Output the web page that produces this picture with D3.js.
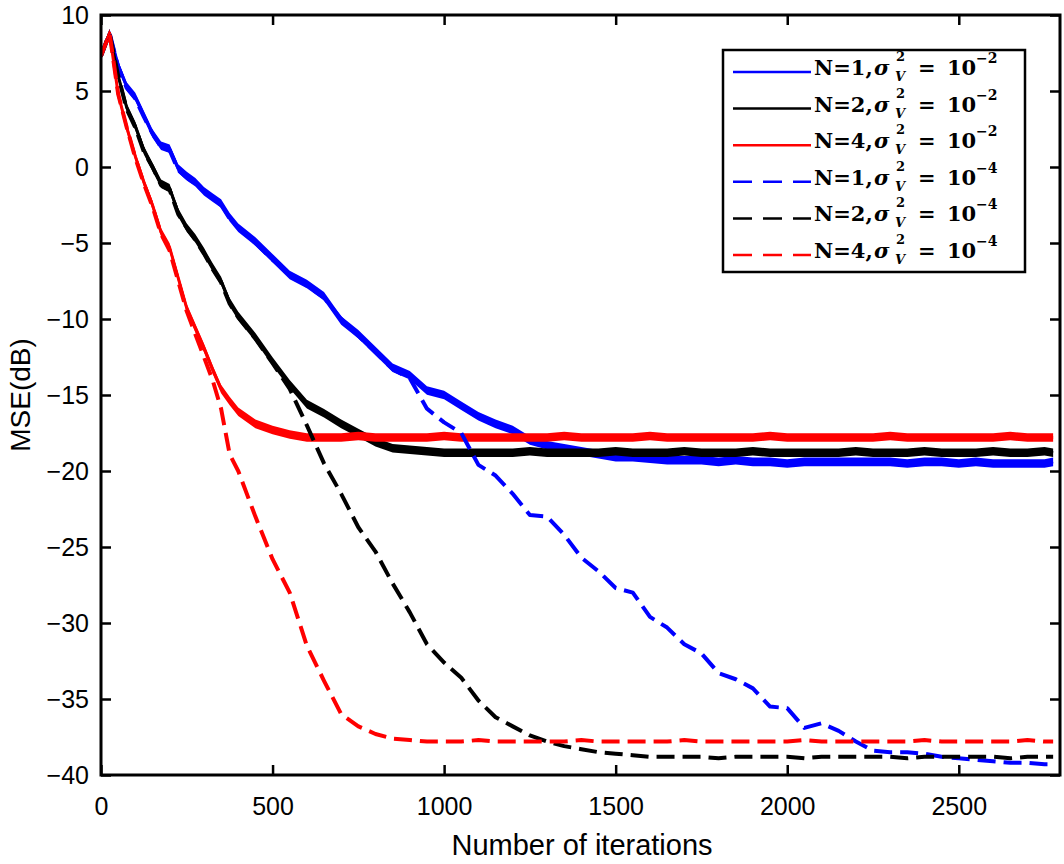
<!DOCTYPE html>
<html>
<head>
<meta charset="utf-8">
<script src="https://cdn.jsdelivr.net/npm/d3@7"></script>
<style>
  html, body { margin: 0; padding: 0; background: #fff; }
  svg { display: block; }
</style>
</head>
<body>
<svg id="chart" width="1064" height="864"></svg>
<script>
// ---------------- data ----------------
const iterations = [0,25,50,75,100,125,150,175,200,225,250,275,300,325,350,375,400,
  450,500,550,600,650,700,750,800,850,900,950,1000,1050,1100,1150,1200,1250,1300,1350,
  1400,1450,1500,1550,1600,1650,1700,1750,1800,1850,1900,1950,2000,2050,2100,2150,2200,
  2250,2300,2350,2400,2450,2500,2550,2600,2650,2700,2750,2775];

// N=1, sigma^2 = 1e-2 (blue solid)
const mseN1High = [7.3,8.8,6.7,5.3,4.6,3.4,2.2,1.4,1.2,-0.1,-0.6,-1.0,-1.6,-2.0,-2.4,-3.3,-4.0,
  -4.9,-6.0,-7.1,-7.7,-8.5,-10.1,-11.0,-12.1,-13.2,-13.7,-14.7,-15.0,-15.7,-16.4,-16.9,-17.3,-18.0,-18.3,-18.5,
  -18.7,-18.9,-19.1,-19.1,-19.2,-19.3,-19.3,-19.3,-19.4,-19.3,-19.4,-19.4,-19.5,-19.4,-19.4,-19.4,-19.4,
  -19.4,-19.4,-19.5,-19.4,-19.4,-19.5,-19.4,-19.5,-19.5,-19.5,-19.5,-19.4];
// N=2, sigma^2 = 1e-2 (black solid)
const mseN2High = [7.3,8.8,6.0,3.9,2.7,1.1,0.0,-1.1,-1.4,-3.0,-4.0,-4.7,-5.6,-6.6,-7.5,-8.9,-9.8,
  -11.2,-12.8,-14.3,-15.6,-16.2,-16.9,-17.5,-18.1,-18.5,-18.6,-18.7,-18.8,-18.8,-18.8,-18.8,-18.8,-18.7,-18.8,-18.8,
  -18.8,-18.8,-18.7,-18.8,-18.8,-18.8,-18.7,-18.8,-18.8,-18.8,-18.7,-18.8,-18.8,-18.8,-18.8,-18.8,-18.7,
  -18.8,-18.8,-18.8,-18.7,-18.8,-18.8,-18.8,-18.7,-18.8,-18.8,-18.7,-18.8];
// N=4, sigma^2 = 1e-2 (red solid)
const mseN4High = [7.3,8.8,4.8,2.6,0.7,-1.0,-2.5,-4.3,-5.3,-7.3,-9.3,-10.6,-11.9,-13.3,-14.6,-15.4,-16.1,
  -16.9,-17.3,-17.6,-17.8,-17.8,-17.8,-17.7,-17.8,-17.8,-17.8,-17.8,-17.7,-17.8,-17.8,-17.8,-17.8,-17.8,-17.8,-17.7,
  -17.8,-17.8,-17.8,-17.8,-17.7,-17.8,-17.8,-17.8,-17.8,-17.8,-17.8,-17.7,-17.8,-17.8,-17.8,-17.8,-17.8,
  -17.8,-17.7,-17.8,-17.8,-17.8,-17.8,-17.8,-17.8,-17.7,-17.8,-17.8,-17.8];
// N=1, sigma^2 = 1e-4 (blue dashed)
const mseN1Low = [7.3,8.8,6.6,5.2,4.5,3.3,2.2,1.3,1.1,-0.2,-0.7,-1.1,-1.6,-2.1,-2.5,-3.4,-4.0,
  -5.0,-6.1,-7.0,-7.8,-8.6,-10.0,-11.1,-12.2,-13.3,-13.9,-15.9,-16.8,-17.5,-19.6,-20.3,-21.5,-22.9,-23.0,-24.2,
  -25.7,-26.6,-27.7,-28.0,-29.6,-30.3,-31.4,-32.0,-33.3,-33.7,-34.3,-35.5,-35.6,-36.9,-36.6,-37.1,-37.8,
  -38.4,-38.5,-38.5,-38.6,-38.8,-38.9,-39.0,-39.1,-39.2,-39.2,-39.3,-39.3];
// N=2, sigma^2 = 1e-4 (black dashed)
const mseN2Low = [7.3,8.8,6.0,3.8,2.6,1.0,0.0,-1.2,-1.5,-3.1,-4.0,-4.8,-5.7,-6.7,-7.6,-9.0,-9.9,
  -11.3,-12.9,-14.6,-17.0,-19.5,-21.5,-23.7,-25.3,-27.4,-29.3,-31.4,-32.6,-33.6,-35.1,-36.2,-36.8,-37.4,-37.8,-38.1,
  -38.3,-38.5,-38.6,-38.7,-38.8,-38.8,-38.8,-38.8,-38.9,-38.8,-38.8,-38.8,-38.8,-38.9,-38.8,-38.8,-38.8,
  -38.8,-38.8,-38.9,-38.8,-38.8,-38.8,-38.8,-38.8,-38.9,-38.8,-38.8,-38.8];
// N=4, sigma^2 = 1e-4 (red dashed)
const mseN4Low = [7.3,8.8,4.8,2.6,0.6,-1.1,-2.6,-4.4,-5.5,-7.5,-9.5,-11.0,-12.5,-14.0,-15.9,-18.9,-20.0,
  -23.0,-25.8,-28.0,-31.5,-33.8,-36.0,-36.8,-37.3,-37.6,-37.7,-37.8,-37.8,-37.8,-37.7,-37.8,-37.8,-37.8,-37.8,-37.8,
  -37.7,-37.8,-37.8,-37.8,-37.8,-37.8,-37.7,-37.8,-37.8,-37.8,-37.8,-37.8,-37.8,-37.7,-37.8,-37.8,-37.8,
  -37.8,-37.8,-37.8,-37.7,-37.8,-37.8,-37.8,-37.8,-37.8,-37.7,-37.8,-37.8];

const seriesLabelsN = ["N=1", "N=2", "N=4", "N=1", "N=2", "N=4"];
const seriesExponent = ["\u22122", "\u22122", "\u22122", "\u22124", "\u22124", "\u22124"];
const seriesColors = ["#0000ff", "#000000", "#ff0000", "#0000ff", "#000000", "#ff0000"];
const seriesDashed = [false, false, false, true, true, true];
const seriesValues = [mseN1High, mseN2High, mseN4High, mseN1Low, mseN2Low, mseN4Low];
// half-width (dB) of the noise band seen around the solid curves
const noiseHalfWidth = [0.28, 0.28, 0.28, 0.25, 0.25, 0.25];

const xTicks = [0, 500, 1000, 1500, 2000, 2500];
const yTicks = [-40, -35, -30, -25, -20, -15, -10, -5, 0, 5, 10];
const xLabel = "Number of iterations";
const yLabel = "MSE(dB)";

// ---------------- drawing ----------------
const svg = d3.select("#chart");
const L = 101, R = 1060, T = 15, B = 775;
const x = d3.scaleLinear().domain([0, 2795]).range([L, R]);
const y = d3.scaleLinear().domain([-40, 10]).range([B, T]);

svg.append("rect").attr("width", 1064).attr("height", 864).attr("fill", "#fff");

svg.append("defs").append("clipPath").attr("id", "plotclip")
  .append("rect").attr("x", L).attr("y", T).attr("width", R - L).attr("height", B - T);

const plot = svg.append("g").attr("clip-path", "url(#plotclip)");

seriesValues.forEach((vals, s) => {
  const pts = iterations.map((it, i) => ({ it, v: vals[i] }));
  if (!seriesDashed[s]) {
    const area = d3.area()
      .x(d => x(d.it))
      .y0(d => y(d.v - noiseHalfWidth[s]))
      .y1(d => y(d.v + noiseHalfWidth[s]));
    plot.append("path").datum(pts).attr("d", area)
      .attr("fill", seriesColors[s]);
    plot.append("path").datum(pts)
      .attr("d", d3.line().x(d => x(d.it)).y(d => y(d.v)))
      .attr("fill", "none").attr("stroke", seriesColors[s])
      .attr("stroke-width", 3).attr("stroke-linejoin", "round");
  } else {
    plot.append("path").datum(pts)
      .attr("d", d3.line().x(d => x(d.it)).y(d => y(d.v)))
      .attr("fill", "none").attr("stroke", seriesColors[s])
      .attr("stroke-width", 4).attr("stroke-dasharray", "18,8")
      .attr("stroke-linejoin", "round");
  }
});

const tickFont = "'Liberation Sans', Arial, Helvetica, sans-serif";

// axes (ticks inward, MATLAB style)
const gx = svg.append("g").attr("transform", `translate(0,${B})`)
  .call(d3.axisBottom(x).tickValues(xTicks).tickSize(-10).tickPadding(22).tickFormat(d3.format("d")));
const gy = svg.append("g").attr("transform", `translate(${L},0)`)
  .call(d3.axisLeft(y).tickValues(yTicks).tickSize(-10).tickPadding(12).tickFormat(d3.format("d")));
const gxt = svg.append("g").attr("transform", `translate(0,${T})`)
  .call(d3.axisTop(x).tickValues(xTicks).tickSize(-10).tickFormat(""));
const gyr = svg.append("g").attr("transform", `translate(${R},0)`)
  .call(d3.axisRight(y).tickValues(yTicks).tickSize(-10).tickFormat(""));

[gx, gy, gxt, gyr].forEach(g => {
  g.select(".domain").remove();
  g.selectAll(".tick line").attr("stroke", "#000").attr("stroke-width", 2.5);
  g.selectAll(".tick text").attr("fill", "#000")
    .style("font-family", tickFont).style("font-size", "25px");
});

svg.append("rect").attr("x", L).attr("y", T).attr("width", R - L).attr("height", B - T)
  .attr("fill", "none").attr("stroke", "#000").attr("stroke-width", 3);

svg.append("text").attr("x", 582).attr("y", 855)
  .attr("text-anchor", "middle").style("font-family", tickFont).style("font-size", "29px")
  .text(xLabel);
svg.append("text").attr("transform", `translate(30,${(T + B) / 2}) rotate(-90)`)
  .attr("text-anchor", "middle").style("font-family", tickFont).style("font-size", "28px")
  .text(yLabel);

// legend
const legX = 723, legY = 50, legW = 302, legH = 222;
const leg = svg.append("g");
leg.append("rect").attr("x", legX).attr("y", legY).attr("width", legW).attr("height", legH)
  .attr("fill", "#fff").attr("stroke", "#000").attr("stroke-width", 2.5);
const serif = "'DejaVu Serif', 'Liberation Serif', serif";
seriesLabelsN.forEach((lab, i) => {
  const cy = 72 + i * 36.6;
  leg.append("line").attr("x1", 733).attr("x2", 811).attr("y1", cy).attr("y2", cy)
    .attr("stroke", seriesColors[i]).attr("stroke-width", 2.5)
    .attr("stroke-dasharray", seriesDashed[i] ? "19,11" : null);
  const g = leg.append("g").attr("fill", "#000")
    .style("font-family", serif).style("font-weight", "bold");
  g.append("text").attr("x", 814).attr("y", cy + 3).style("font-size", "21px").text(lab + ",");
  g.append("text").attr("x", 874).attr("y", cy + 3).style("font-size", "21px")
    .style("font-style", "italic").text("\u03c3");
  g.append("text").attr("x", 896).attr("y", cy - 11).style("font-size", "13px").text("2");
  g.append("text").attr("x", 895).attr("y", cy + 9).style("font-size", "13px")
    .style("font-style", "italic").text("V");
  g.append("text").attr("x", 918).attr("y", cy + 3).style("font-size", "21px").text("=");
  g.append("text").attr("x", 947).attr("y", cy + 3).style("font-size", "21px").text("10");
  g.append("text").attr("x", 976).attr("y", cy - 9).style("font-size", "14px").text(seriesExponent[i]);
});
</script>
</body>
</html>
